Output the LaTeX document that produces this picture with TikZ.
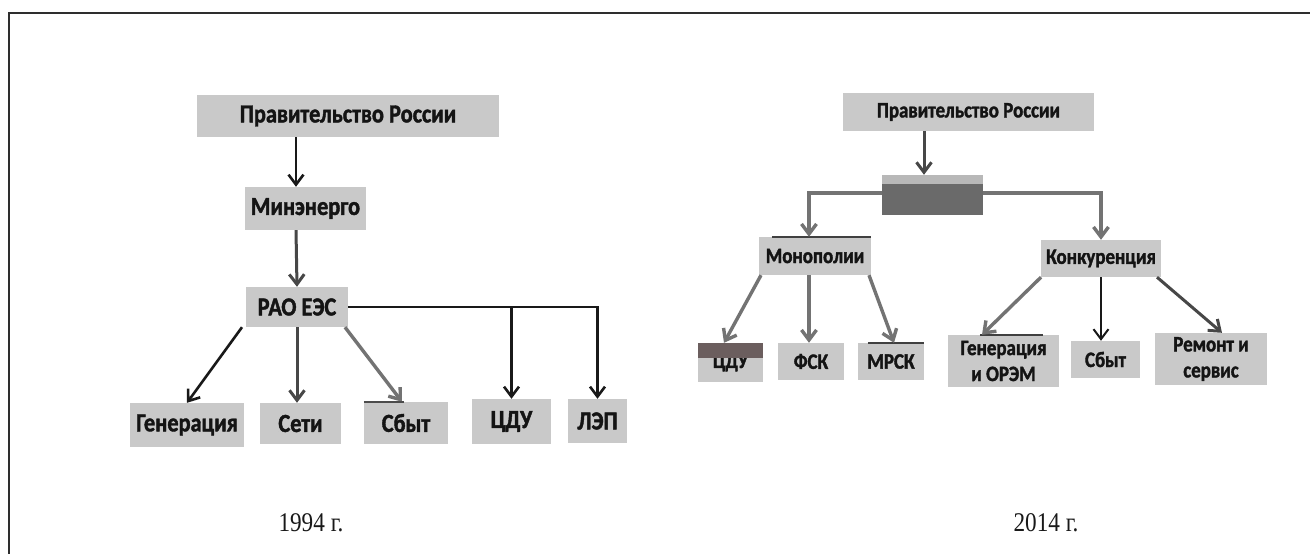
\documentclass[tikz,border=0pt]{standalone}
\usepackage{fontspec}
\setmainfont{Carlito}
\newfontfamily\boxfont[FakeStretch=0.86, BoldFeatures={FakeBold=1.6}]{Carlito}
\newfontfamily\yearfont[FakeStretch=0.86]{Liberation Serif}
\usetikzlibrary{arrows.meta}
\definecolor{boxgray}{HTML}{C9C9C9}
\definecolor{darkbox}{HTML}{6A6A6A}
\definecolor{lightstrip}{HTML}{B8B8B8}
\definecolor{bandcol}{HTML}{6B5E5E}
\definecolor{framecol}{HTML}{2E2E2E}
\tikzset{
  bx/.style={fill=boxgray, inner sep=0pt, align=center, text=black!92},
  lbx/.style={bx, font=\boxfont\bfseries\fontsize{26}{29}\selectfont},
  rbx/.style={bx, font=\boxfont\bfseries\fontsize{22}{26}\selectfont},
  tipv/.style={-{Straight Barb[length=10pt,width=15pt]}},
  blk/.style={tipv, draw=black!90, line width=2.6pt},
  dkarr/.style={tipv, draw=black!72, line width=3pt},
  gryarr/.style={tipv, draw=black!55, line width=3.4pt},
  topmark/.style={draw=black!75, line width=2.5pt},
  yr/.style={font=\yearfont\fontsize{27}{30}\selectfont, text=black!90}
}
\begin{document}
\begin{tikzpicture}[x=1pt,y=-1pt]
\useasboundingbox (0,0) rectangle (1310,554);
\fill[white] (0,0) rectangle (1310,554);
% frame
\draw[framecol, line width=2pt] (9,554) -- (9,12.5) -- (1310,12.5);

% ---------- 1994 ----------
\node[lbx, minimum width=302pt, minimum height=42pt] (lgov) at (348,116) {Правительство России};
\node[lbx, minimum width=121pt, minimum height=43pt] (lmin) at (305.5,208.5) {Минэнерго};
\node[lbx, minimum width=102pt, minimum height=40pt] (lrao) at (297,307) {РАО ЕЭС};
\node[lbx, minimum width=114pt, minimum height=44pt] (lgen) at (187,425) {Генерация};
\node[lbx, minimum width=81pt, minimum height=41pt] (lset) at (300.5,423.5) {Сети};
\node[lbx, minimum width=84pt, minimum height=42pt] (lsb) at (406,423) {Сбыт};
\node[lbx, minimum width=79pt, minimum height=45pt] (lcdu) at (511.5,421.5) {ЦДУ};
\node[lbx, minimum width=59pt, minimum height=44pt] (llep) at (597.5,421) {ЛЭП};

\draw[blk] ([xshift=-52pt]lgov.south) -- ([xshift=-9.5pt]lmin.north);
\draw[dkarr] ([xshift=-9.5pt]lmin.south) -- (lrao.north);
\draw[blk] ([xshift=-55pt]lrao.south) -- (lgen.north);
\draw[dkarr] (lrao.south) -- ([xshift=-3.5pt]lset.north);
\draw[gryarr] ([xshift=48pt]lrao.south) -- ([xshift=-4pt]lsb.north);
\draw[blk] (lrao.east) -| (llep.north);
\draw[blk] (lcdu.north |- lrao.east) -- (lcdu.north);
\draw[black!70, line width=1.5pt] (lsb.north west) -- ++(40pt,0);

\node[yr] (y1) at (311,523) {1994 г.};

% ---------- 2014 ----------
\node[rbx, minimum width=251pt, minimum height=38pt] (rgov) at (968.5,112) {Правительство России};
\node[bx, fill=darkbox, minimum width=101pt, minimum height=40pt] (rmid) at (932.5,195) {};
\fill[lightstrip] (rmid.north west) rectangle ([yshift=-9pt]rmid.north east);
\node[rbx, minimum width=112pt, minimum height=38pt] (rmon) at (815,256) {Монополии};
\node[rbx, minimum width=120pt, minimum height=37pt] (rkon) at (1101,258.5) {Конкуренция};
\node[rbx, minimum width=65pt, minimum height=39pt] (rcdu) at (730.5,362.5) {ЦДУ};
\node[rbx, minimum width=66pt, minimum height=37pt] (rfsk) at (811,361.5) {ФСК};
\node[rbx, minimum width=66pt, minimum height=37pt] (rmrsk) at (891,361.5) {МРСК};
\node[rbx, minimum width=111pt, minimum height=52pt] (rgen) at (1003.5,361) {Генерация\\и ОРЭМ};
\node[rbx, minimum width=69pt, minimum height=37pt] (rsb) at (1105.5,359.5) {Сбыт};
\node[rbx, minimum width=112pt, minimum height=52pt] (rrem) at (1211,359) {Ремонт и\\сервис};

% marks on box tops
\fill[bandcol] (rcdu.north west) rectangle ([yshift=-15pt]rcdu.north east);
\draw[topmark] ([xshift=13pt]rmon.north west) -- (rmon.north east);
\draw[topmark] ([xshift=10pt]rmrsk.north west) -- (rmrsk.north east);
\draw[topmark] ([xshift=32pt]rgen.north west) -- ([xshift=-16pt]rgen.north east);

\draw[dkarr] ([xshift=-44.5pt]rgov.south) -- ([xshift=-8.5pt]rmid.north);
\draw[gryarr] ([yshift=2pt]rmid.west) -| ([xshift=-6pt]rmon.north);
\draw[gryarr] ([yshift=2pt]rmid.east) -| (rkon.north);
\draw[gryarr] ([xshift=-54pt]rmon.south) -- ([xshift=-6.5pt]rcdu.north);
\draw[gryarr] ([xshift=-6pt]rmon.south) -- ([xshift=-2pt]rfsk.north);
\draw[gryarr] ([xshift=54pt]rmon.south) -- ([xshift=3pt]rmrsk.north);
\draw[gryarr] ([xshift=-60pt]rkon.south) -- ([xshift=-21.5pt]rgen.north);
\draw[blk, line width=2pt] (rkon.south) -- ([xshift=-4.5pt]rsb.north);
\draw[dkarr] ([xshift=56pt]rkon.south) -- ([xshift=11pt]rrem.north);

\node[yr] (y2) at (1046,523) {2014 г.};
\end{tikzpicture}
\end{document}
